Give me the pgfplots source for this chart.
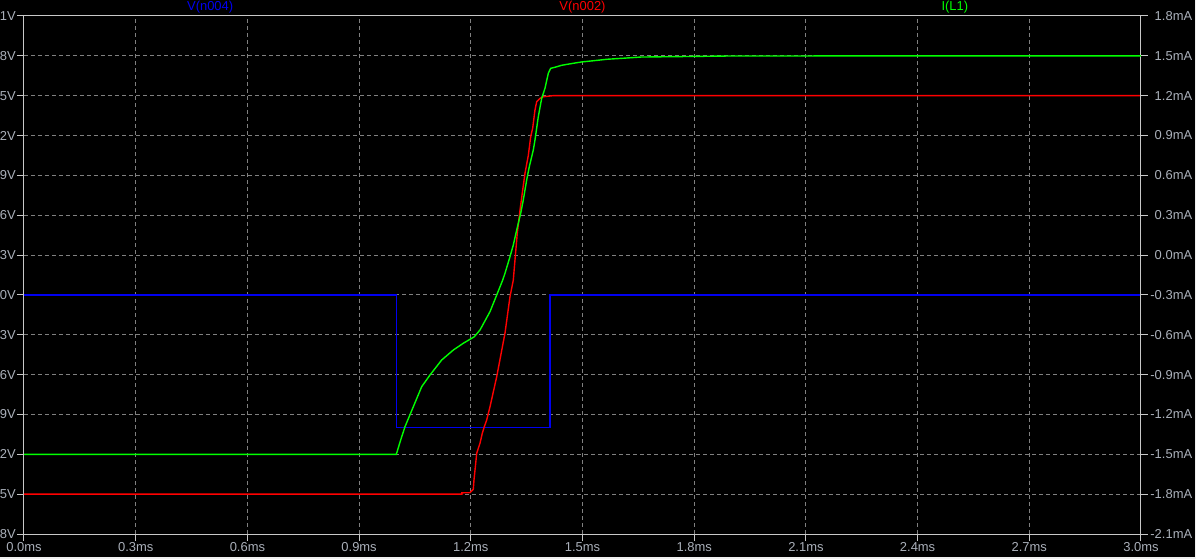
\documentclass[border=0pt]{standalone}
\usepackage{pgfplots}
\pgfplotsset{compat=1.18}
\usepackage{fontspec}
\setmainfont{Liberation Sans}

\definecolor{axgray}{RGB}{200,200,200}
\definecolor{gridgray}{RGB}{128,128,128}
\definecolor{lblgray}{RGB}{170,176,186}
\definecolor{trblue}{RGB}{0,0,240}
\definecolor{trred}{RGB}{255,0,0}
\definecolor{trgreen}{RGB}{0,255,0}

\pgfplotsset{
  spice/.style={
    width=1117bp, height=518bp, scale only axis,
    at={(0,0)}, anchor=south west,
    xmin=0, xmax=3,
    tick align=outside,
    major tick length=7bp,
    every tick/.style={axgray, line width=1bp},
    axis line style={axgray, line width=1bp},
    tick label style={font=\fontsize{13}{15}\selectfont, text=lblgray, inner sep=0pt},
  }
}

\begin{document}
\begin{tikzpicture}
% window background
\fill[black] (-24bp,-25bp) rectangle (1172bp,534bp);
\fill[black!6] (-24bp,-25bp) rectangle (1172bp,-22.5bp);
\fill[black!6] (1171bp,-25bp) rectangle (1172bp,534bp);

% left axis: voltages
\begin{axis}[spice, name=ax,
  ymin=-1.8, ymax=2.1,
  xtick={0,0.3,0.6,0.9,1.2,1.5,1.8,2.1,2.4,2.7,3.0},
  xticklabels={0.0ms,0.3ms,0.6ms,0.9ms,1.2ms,1.5ms,1.8ms,2.1ms,2.4ms,2.7ms,3.0ms},
  ytick={-1.8,-1.5,-1.2,-0.9,-0.6,-0.3,0,0.3,0.6,0.9,1.2,1.5,1.8,2.1},
  yticklabels={-1.8V,-1.5V,-1.2V,-0.9V,-0.6V,-0.3V,0.0V,0.3V,0.6V,0.9V,1.2V,1.5V,1.8V,2.1V},
  xtick pos=left, ytick pos=left,
  grid=major,
  major grid style={gridgray, dash pattern=on 4bp off 3bp, line width=1bp},
  clip=false,
  yticklabel style={anchor=east, xshift=-1bp},
  xticklabel style={anchor=north, yshift=-1bp},
]
% V(n004)
\addplot[trblue, line width=1.4bp] coordinates {
  (0,0) (1.0,0) (1.0,-1.0) (1.413,-1.0) (1.413,0) (3.0,0)
};
% V(n002)
\addplot[trred, line width=1.4bp] coordinates {
  (0,-1.5) (1.176,-1.5) (1.176,-1.49) (1.198,-1.489) (1.2067,-1.463)
  (1.2086,-1.393) (1.2132,-1.268) (1.2159,-1.192) (1.2202,-1.155)
  (1.2247,-1.117) (1.2309,-1.042) (1.2363,-0.992) (1.2427,-0.942)
  (1.2516,-0.842) (1.2696,-0.616) (1.2919,-0.287) (1.3053,-0.013)
  (1.3142,0.112) (1.3187,0.263) (1.3249,0.466) (1.3322,0.639)
  (1.3394,0.790) (1.3456,0.916) (1.3545,1.05) (1.3609,1.191)
  (1.3663,1.257) (1.3724,1.392) (1.3770,1.455) (1.3859,1.480)
  (1.3947,1.492) (1.42,1.5) (3.0,1.5)
};
\node[font=\fontsize{13}{15}\selectfont, text=trblue, yshift=9bp] at (axis cs:0.5,2.1) {V(n004)};
\node[font=\fontsize{13}{15}\selectfont, text=trred, yshift=9bp] at (axis cs:1.5,2.1) {V(n002)};
\node[font=\fontsize{13}{15}\selectfont, text=trgreen, yshift=9bp] at (axis cs:2.5,2.1) {I(L1)};
\end{axis}

% right axis: current
\begin{axis}[spice,
  ymin=-2.1, ymax=1.8,
  axis y line*=right, axis x line=none,
  ytick={-2.1,-1.8,-1.5,-1.2,-0.9,-0.6,-0.3,0,0.3,0.6,0.9,1.2,1.5,1.8},
  yticklabels={-2.1mA,-1.8mA,-1.5mA,-1.2mA,-0.9mA,-0.6mA,-0.3mA,0.0mA,0.3mA,0.6mA,0.9mA,1.2mA,1.5mA,1.8mA},
  yticklabel style={anchor=west, text width=43bp, align=right, xshift=1bp},
]
% I(L1)
\addplot[trgreen, line width=1.4bp] coordinates {
  (0,-1.5) (1.0,-1.5) (1.0117,-1.392) (1.0233,-1.292) (1.0456,-1.142)
  (1.0681,-0.991) (1.0904,-0.903) (1.1218,-0.790) (1.1530,-0.715)
  (1.1799,-0.664) (1.2094,-0.615) (1.2247,-0.564) (1.2516,-0.426)
  (1.2696,-0.301) (1.2857,-0.188) (1.2919,-0.137) (1.3053,-0.012)
  (1.3142,0.076) (1.3233,0.189) (1.3340,0.314) (1.3410,0.415)
  (1.3501,0.565) (1.3571,0.665) (1.3679,0.791) (1.3724,0.866)
  (1.3813,1.042) (1.3904,1.180) (1.3993,1.256) (1.4082,1.369)
  (1.4146,1.406) (1.4262,1.414) (1.4441,1.429) (1.4753,1.444)
  (1.4979,1.454) (1.5290,1.463) (1.5650,1.474) (1.6096,1.482)
  (1.6571,1.491) (1.9015,1.499) (3.0,1.5)
};
\end{axis}

\pgfresetboundingbox
\path[use as bounding box] (-24bp,-25bp) rectangle (1172bp,534bp);
\end{tikzpicture}
\end{document}
